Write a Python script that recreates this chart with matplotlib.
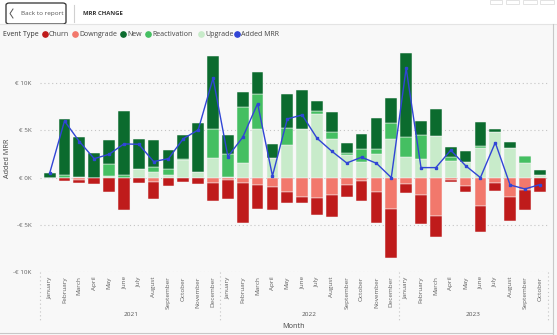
import matplotlib
matplotlib.use("Agg")
import matplotlib.pyplot as plt
import matplotlib.transforms as mtransforms
from matplotlib.patches import Rectangle, FancyBboxPatch
from matplotlib.lines import Line2D
import numpy as np

plt.rcParams['font.family'] = ['Open Sans', 'DejaVu Sans']

# monthly MRR movements in thousands of euro, Jan 2021 .. Oct 2023
month_names = ['January', 'February', 'March', 'April', 'May', 'June', 'July',
               'August', 'September', 'October', 'November', 'December']
months = month_names * 2 + month_names[:10]
years = ['2021', '2022', '2023']
year_lengths = [12, 12, 10]

upgrade = [0.0, 0.0, 0.1, 0.0, 0.15, 0.0, 0.92, 0.64, 0.28, 1.84, 0.64, 2.05,
           0.1, 1.59, 5.16, 2.05, 3.43, 5.19, 6.71, 4.06, 2.44, 1.70, 2.54, 4.13,
           2.16, 1.98, 4.45, 1.80, 1.70, 3.11, 4.81, 3.14, 1.55, 0.28]
reactivation = [0.0, 0.28, 0.0, 0.0, 1.24, 0.28, 0.0, 0.46, 0.60, 0.14, 0.0, 3.11,
                2.37, 5.87, 3.75, 0.0, 1.80, 0.0, 0.35, 0.74, 0.18, 1.34, 0.49, 1.70,
                2.19, 2.51, 0.0, 0.35, 0.0, 0.28, 0.0, 0.0, 0.71, 0.0]
new = [0.46, 5.94, 4.25, 2.61, 2.64, 6.75, 3.14, 2.86, 2.05, 2.58, 5.12, 7.77,
       2.05, 1.59, 2.23, 1.48, 3.60, 4.06, 1.02, 2.16, 1.06, 1.59, 3.32, 2.65,
       8.83, 1.48, 2.86, 1.13, 1.10, 2.47, 0.32, 0.64, 0.0, 0.49]
downgrade = [0.0, 0.08, 0.25, 0.0, 0.0, 0.0, 0.0, 0.46, 0.0, 0.0, 0.0, 0.53,
             0.2, 0.60, 0.78, 0.95, 1.48, 2.05, 2.16, 1.84, 0.78, 0.32, 1.52, 3.36,
             0.64, 1.84, 4.03, 0.25, 0.85, 3.00, 0.57, 2.05, 1.31, 0.05]
churn = [0.0, 0.25, 0.32, 0.67, 1.52, 3.43, 0.57, 1.80, 0.92, 0.49, 0.67, 1.94,
         2.10, 4.20, 2.58, 2.47, 1.20, 0.60, 1.80, 2.37, 1.31, 2.16, 3.29, 5.14,
         0.99, 3.07, 2.26, 0.21, 0.71, 2.79, 0.85, 2.54, 2.16, 1.47]
added_mrr = [0.46, 6.00, 3.82, 2.01, 2.47, 3.57, 3.53, 1.70, 2.01, 4.13, 5.05, 10.53,
             2.23, 4.28, 7.84, 0.18, 6.22, 6.64, 4.17, 2.79, 1.55, 2.16, 1.52, 0.0,
             11.59, 1.06, 1.06, 2.90, 1.27, 0.0, 3.71, -0.78, -1.20, -0.74]

c_churn = '#bf1b1b'
c_down = '#f2786c'
c_new = '#0b6b2e'
c_react = '#45bf62'
c_up = '#c8ebca'
c_line = '#3145d6'

W, H = 557, 335
fig = plt.figure(figsize=(W / 100, H / 100), dpi=100)
fig.patch.set_facecolor('#f8f8f8')

def fx(px):
    return px / W

def fy(py):
    return 1 - py / H

# header strip
fig.patches.append(Rectangle((0, fy(24)), 1, 24 / H, transform=fig.transFigure,
                             facecolor='white', edgecolor='none', zorder=0))
fig.lines.append(Line2D([0, 1], [fy(24), fy(24)], transform=fig.transFigure,
                        color='#e4e4e4', lw=0.8))
fig.patches.append(FancyBboxPatch((fx(6), fy(24)), 60 / W, 21 / H,
                                  boxstyle='round,pad=0,rounding_size=0.006',
                                  transform=fig.transFigure, facecolor='white',
                                  edgecolor='#2e2e2e', lw=0.9))
fig.lines.append(Line2D([fx(13), fx(10), fx(13)], [fy(9), fy(13.5), fy(18)],
                        transform=fig.transFigure, color='#555555', lw=0.7))
fig.text(fx(21), fy(13.5), 'Back to report', fontsize=4.6, color='#555555',
         va='center', ha='left')
fig.lines.append(Line2D([fx(74), fx(74)], [fy(5), fy(22)], transform=fig.transFigure,
                        color='#d0d0d0', lw=0.8))
fig.text(fx(83), fy(13.5), 'MRR CHANGE', fontsize=4.3, fontweight='bold',
         color='#333333', va='center', ha='left')
for x0, w in [(490, 12), (506, 13), (523, 14), (540, 14)]:
    fig.patches.append(Rectangle((fx(x0), fy(4)), w / W, 4 / H, transform=fig.transFigure,
                                 facecolor='white', edgecolor='#d8d8d8', lw=0.5))

# right and bottom frame
fig.lines.append(Line2D([fx(553), fx(553)], [fy(24), fy(335)], transform=fig.transFigure,
                        color='#c8c8c8', lw=0.8))
fig.lines.append(Line2D([0, fx(553)], [fy(333), fy(333)], transform=fig.transFigure,
                        color='#c8c8c8', lw=0.8))

# legend row
fig.text(fx(3), fy(34), 'Event Type', fontsize=5, color='#333333', va='center')
legend_items = [('Churn', c_churn, 45), ('Downgrade', c_down, 75), ('New', c_new, 123),
                ('Reactivation', c_react, 148), ('Upgrade', c_up, 201),
                ('Added MRR', c_line, 237)]
for label, col, xp in legend_items:
    fig.lines.append(Line2D([fx(xp)], [fy(34)], transform=fig.transFigure, marker='o',
                            ms=3.8, color=col, lw=0))
    fig.text(fx(xp + 4), fy(34), label, fontsize=5, color='#444444', va='center')

ax = fig.add_axes([fx(40), fy(272), 508 / W, 227 / H])
ax.set_facecolor('none')
x = np.arange(len(months))
bw = 0.79

up = np.array(upgrade)
re = np.array(reactivation)
nw = np.array(new)
dn = np.array(downgrade)
ch = np.array(churn)

edge = dict(edgecolor='#f4f4f4', linewidth=0.35, zorder=2)
ax.bar(x, up, bw, color=c_up, **edge)
ax.bar(x, re, bw, bottom=up, color=c_react, **edge)
ax.bar(x, nw, bw, bottom=up + re, color=c_new, **edge)
ax.bar(x, -dn, bw, color=c_down, **edge)
ax.bar(x, -ch, bw, bottom=-dn, color=c_churn, **edge)
ax.plot(x, added_mrr, color=c_line, lw=1.0, marker='s', ms=1.8, zorder=3)

ax.set_xlim(-0.65, 33.55)
ax.set_ylim(-10, 14.05)
for s in ax.spines.values():
    s.set_visible(False)

yt = [-10, -5, 0, 5, 10]
ax.set_yticks(yt)
ax.set_yticklabels(['-€ 10K', '-€ 5K', '€ 0K', '€ 5K', '€ 10K'], fontsize=4.5, color='#606060')
ax.tick_params(axis='y', length=0, pad=6)
for v in yt:
    ax.axhline(v, color='#c4c4c4', lw=0.8, ls=(0, (1, 2.5)), zorder=1)

ax.set_xticks(x)
ax.set_xticklabels(months, rotation=90, fontsize=4.6, color='#606060')
ax.tick_params(axis='x', length=0, pad=3)

trans = mtransforms.blended_transform_factory(ax.transData, fig.transFigure)
for b in [-0.65, 11.5, 23.5, 33.55]:
    ax.add_line(Line2D([b, b], [fy(272), fy(321)], transform=trans, color='#c4c4c4',
                       lw=0.8, ls=(0, (1, 2.5)), clip_on=False))
start = 0
for yr, n in zip(years, year_lengths):
    ax.text(start + (n - 1) / 2, fy(314), yr, transform=trans, fontsize=4.6,
            color='#555555', ha='center', va='center')
    start += n

fig.text(fx(294), fy(326), 'Month', fontsize=5.2, color='#444444', ha='center', va='center')
fig.text(fx(8), fy(158), 'Added MRR', fontsize=5.2, color='#444444', rotation=90,
         ha='center', va='center')

fig.savefig('out.png', dpi=100, facecolor=fig.get_facecolor())
